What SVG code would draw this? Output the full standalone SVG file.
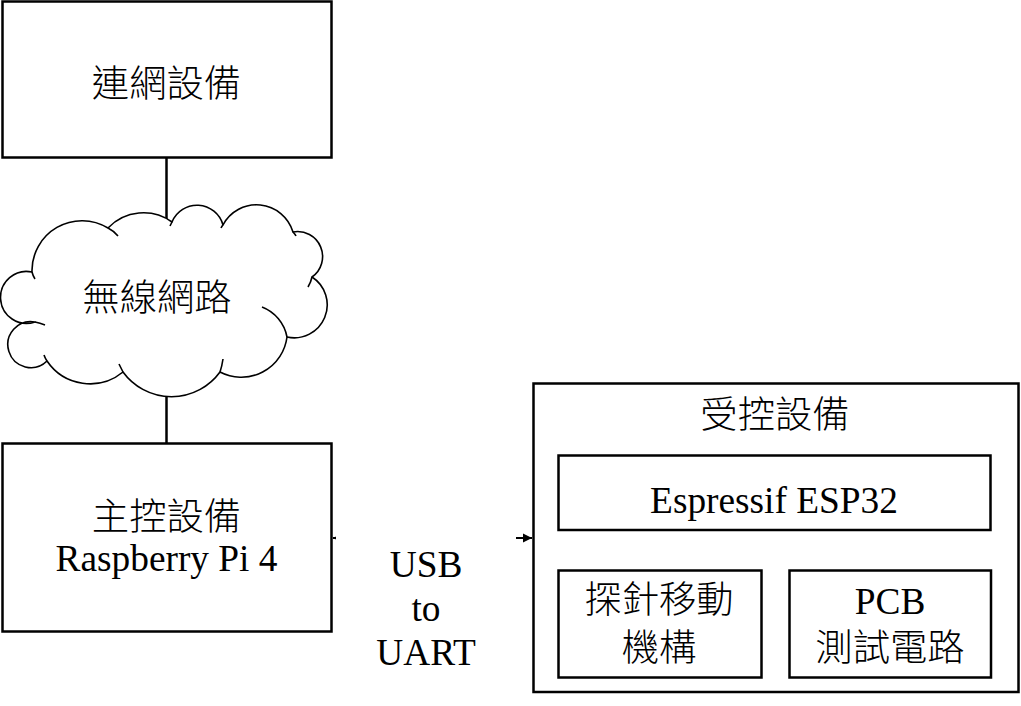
<svg xmlns="http://www.w3.org/2000/svg" width="1021" height="706" viewBox="0 0 1021 706">
  <defs>
    <style>
      .box { fill: #ffffff; stroke: #000000; stroke-width: 2.5; }
      .cloud { fill: #ffffff; stroke: #000000; stroke-width: 1.6; stroke-linejoin: round; }
      .inner { fill: none; stroke: #000000; stroke-width: 1.6; }
      .wire { stroke: #000000; stroke-width: 2.5; fill: none; }
      .arrow { stroke: #000000; stroke-width: 2.2; fill: none; }
      text { font-family: "Liberation Serif", "Noto Sans CJK TC", serif; font-size: 37.33px; fill: #000000; text-anchor: middle; }
      .cjk { font-weight: 300; }
    </style>
    <marker id="arrowEnd" viewBox="0 0 10 10" refX="10" refY="5" markerWidth="4.2" markerHeight="4.2" orient="auto" markerUnits="strokeWidth">
      <path d="M0,0 L10,5 L0,10 Z" fill="#000000"/>
    </marker>
    <marker id="arrowStart" viewBox="0 0 10 10" refX="0" refY="5" markerWidth="4.2" markerHeight="4.2" orient="auto" markerUnits="strokeWidth">
      <path d="M10,0 L0,5 L10,10 Z" fill="#000000"/>
    </marker>
  </defs>
  <rect x="0" y="0" width="1021" height="706" fill="#ffffff"/>

  <g id="connectors">
    <line class="wire" x1="166.5" y1="157" x2="166.5" y2="226"/>
    <line class="wire" x1="166.5" y1="390" x2="166.5" y2="444"/>
    <line id="usb-uart-link" class="arrow" x1="333" y1="538" x2="532" y2="538" marker-start="url(#arrowStart)" marker-end="url(#arrowEnd)"/>
  </g>

  <g id="node-network-device">
    <rect class="box" x="2.5" y="1.5" width="329" height="156"/>
    <text class="cjk" x="166.5" y="97">連網設備</text>
  </g>

  <g id="node-wireless-cloud">
    <path class="cloud" d="M32 272 A50 50 0 0 1 108 228 A49 49 0 0 1 172 222 A27 27 0 0 1 223 225 A38 38 0 0 1 293 232 A25 25 0 0 1 312 277 A33 33 0 0 1 287 337 A46 46 0 0 1 220 372 A60 60 0 0 1 123 372 A52 52 0 0 1 47 361 A23 23 0 1 1 35 322 A26 26 0 1 1 32 272 Z"/>
    <path class="inner" d="M32 272 Q33 276 35 279 M108 228 Q114 231 118 236 M172 222 Q171 224 170 226 M223 225 Q222 226 221 228 M293 232 Q295 234 296 236 M312 277 Q311 282 308 287 M262 307 A40 40 0 0 1 287 337 M223 359 Q222 366 220 372 M123 372 Q121 368 119 364 M47 361 Q45 358 44 355 M35 322 Q40 323 45 325"/>
    <text class="cjk" x="157" y="311">無線網路</text>
  </g>

  <g id="node-main-controller">
    <rect class="box" x="2.5" y="443.5" width="329" height="188"/>
    <text class="cjk" x="166.5" y="530">主控設備</text>
    <text x="166.5" y="571">Raspberry Pi 4</text>
  </g>

  <g id="label-usb-uart">
    <rect x="336" y="500" width="180" height="185" fill="#ffffff"/>
    <text x="426" y="577">USB</text>
    <text x="426" y="621">to</text>
    <text x="426" y="665">UART</text>
  </g>

  <g id="node-controlled-device">
    <rect class="box" x="533.5" y="383.5" width="485" height="308.5"/>
    <text class="cjk" x="775" y="428">受控設備</text>
  </g>

  <g id="node-esp32">
    <rect class="box" x="558.5" y="455.5" width="432" height="74.5"/>
    <text x="774" y="513">Espressif ESP32</text>
  </g>

  <g id="node-probe-mechanism">
    <rect class="box" x="558.5" y="570.5" width="203" height="107"/>
    <text class="cjk" x="659" y="613">探針移動</text>
    <text class="cjk" x="659" y="661">機構</text>
  </g>

  <g id="node-pcb-test">
    <rect class="box" x="789.5" y="570.5" width="201.5" height="107"/>
    <text x="890" y="614">PCB</text>
    <text class="cjk" x="890" y="661">測試電路</text>
  </g>
</svg>
